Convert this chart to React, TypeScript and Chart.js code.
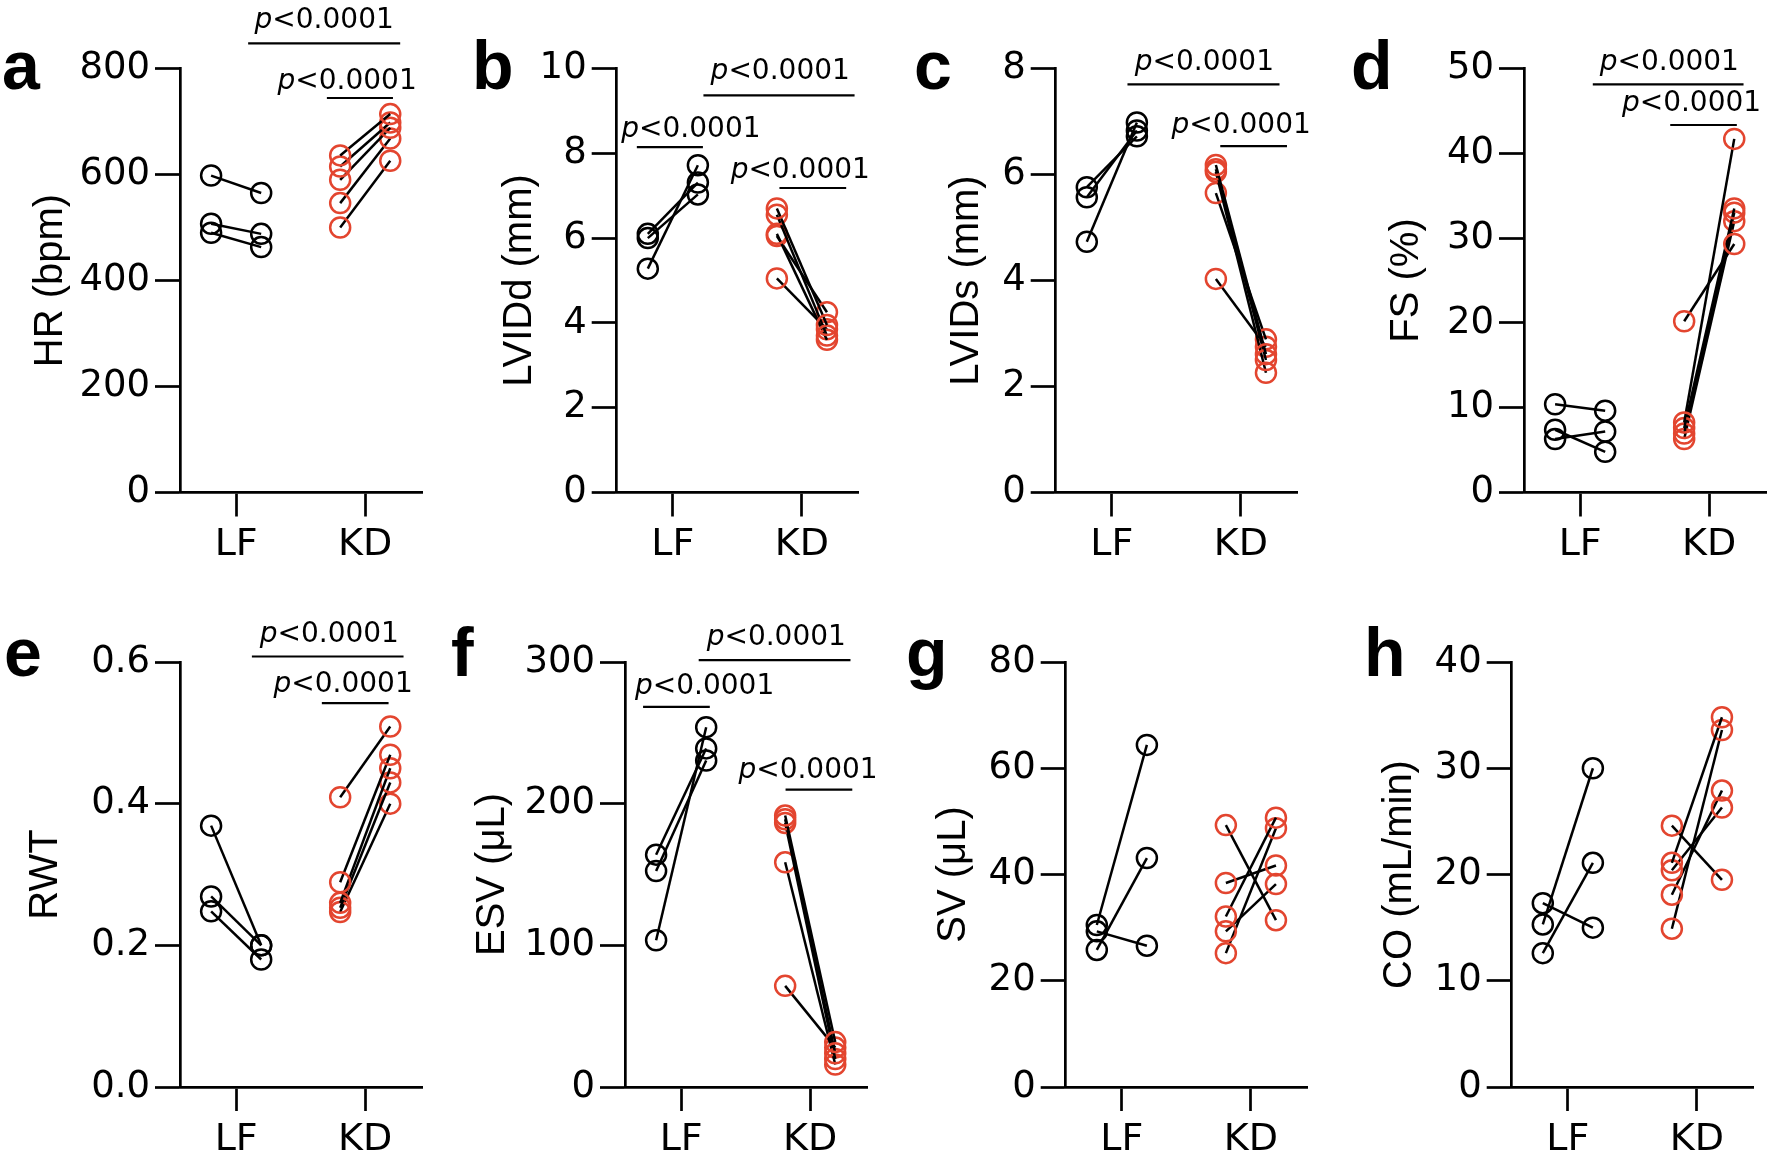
import React, { useEffect, useRef } from 'react';
import { Chart, registerables } from 'chart.js';

Chart.register(...registerables);

// ---------- data ----------
const CATEGORIES = ['LF', 'KD'];
const P_LABEL = 'p<0.0001';

// a: HR (bpm)
const hrLfPre = [598, 507, 490];
const hrLfPost = [565, 488, 463];
const hrKdPre = [636, 615, 590, 546, 500];
const hrKdPost = [714, 698, 688, 668, 626];

// b: LVIDd (mm)
const lviddLfPre = [6.1, 6.0, 5.28];
const lviddLfPost = [7.31, 7.03, 7.72];
const lviddKdPre = [6.7, 6.55, 6.1, 6.05, 5.05];
const lviddKdPost = [3.95, 3.7, 3.6, 4.25, 3.85];

// c: LVIDs (mm)
const lvidsLfPre = [5.76, 5.57, 4.73];
const lvidsLfPost = [6.72, 6.83, 6.98];
const lvidsKdPre = [6.18, 6.1, 6.05, 5.65, 4.03];
const lvidsKdPost = [2.61, 2.5, 2.26, 2.89, 2.75];

// d: FS (%)
const fsLfPre = [10.4, 7.4, 6.3];
const fsLfPost = [9.65, 4.8, 7.2];
const fsKdPre = [20.2, 8.26, 7.6, 6.96, 6.3];
const fsKdPost = [29.3, 41.7, 33.5, 33.0, 32.0];

// e: RWT
const rwtLfPre = [0.369, 0.269, 0.248];
const rwtLfPost = [0.2, 0.2, 0.18];
const rwtKdPre = [0.409, 0.289, 0.26, 0.253, 0.247];
const rwtKdPost = [0.509, 0.469, 0.45, 0.43, 0.4];

// f: ESV (uL)
const esvLfPre = [164, 152.5, 103.6];
const esvLfPost = [239, 230.5, 254];
const esvKdPre = [191.6, 189, 186.4, 158.6, 71.4];
const esvKdPost = [31.7, 23.8, 19.8, 15.9, 27.8];

// g: SV (uL)
const svLfPre = [30.5, 29.3, 25.8];
const svLfPost = [64.4, 26.6, 43.1];
const svKdPre = [49.3, 38.4, 32.1, 29.3, 25.2];
const svKdPost = [31.4, 41.7, 50.7, 38.2, 48.7];

// h: CO (mL/min)
const coLfPre = [17.3, 15.3, 12.6];
const coLfPost = [15.0, 30.0, 21.1];
const coKdPre = [24.6, 21.1, 20.4, 18.1, 14.9];
const coKdPost = [19.5, 34.8, 26.3, 27.9, 33.6];

// significance brackets: [from, to, at, labelX, labelY] in axis units
const hrBrackets = [[1.093, 2.271, 847.5, 1.682, 875.8], [1.703, 2.215, 744.3, 1.86, 761.7]];
const lviddBrackets = [[1.237, 2.408, 9.366, 1.832, 9.741], [0.721, 1.233, 8.144, 1.14, 8.387], [1.826, 2.343, 7.182, 1.987, 7.427]];
const lvidsBrackets = [[1.121, 2.299, 7.7, 1.717, 7.966], [1.84, 2.357, 6.536, 2.002, 6.779]];
const fsBrackets = [[1.098, 2.266, 48.12, 1.691, 49.79], [1.698, 2.214, 43.34, 1.863, 44.99]];
const rwtBrackets = [[1.122, 2.297, 0.6078, 1.722, 0.6288], [1.664, 2.181, 0.542, 1.829, 0.5577]];
const esvBrackets = [[1.136, 2.312, 301.3, 1.737, 311.8], [0.705, 1.222, 268.3, 1.182, 277.5], [1.809, 2.326, 209.9, 1.983, 218.3]];

// ---------- layout / style ----------
const X_MIN = 0.565;
const X_MAX = 2.44;
const PAIR_OFFSET = 0.194;
const RED = '#e3452f';
const BLACK = '#000000';
const PLOT_W = 242;
const X_AXIS_H = 75;
const AXIS_W = 2.7;

type Panel = {
  letter: string;
  title: string;
  lfPre: number[]; lfPost: number[]; kdPre: number[]; kdPost: number[];
  yMax: number; yStep: number; decimals: number;
  brackets: number[][];
  box: { left: number; top: number; width: number; height: number };
  plotLeft: number; plotTop: number; plotBottom: number;
  titleX: number;
  letterX: number; letterY: number;
};

const TOP = { top: 0, height: 580, plotTop: 68.5, plotBottom: 492.5, letterY: 89 };
const BOT = { top: 580, height: 585, plotTop: 662, plotBottom: 1087, letterY: 676 };
const COLS = [
  { left: 0, width: 445 },
  { left: 445, width: 445 },
  { left: 890, width: 444 },
  { left: 1334, width: 445 },
];

function mk(row: any, col: number, o: any): Panel {
  return {
    ...o,
    box: { left: COLS[col].left, top: row.top, width: COLS[col].width, height: row.height },
    plotTop: row.plotTop,
    plotBottom: row.plotBottom,
    letterY: row.letterY,
  };
}

const PANELS: Panel[] = [
  mk(TOP, 0, { letter: 'a', title: 'HR (bpm)', lfPre: hrLfPre, lfPost: hrLfPost, kdPre: hrKdPre, kdPost: hrKdPost, yMax: 800, yStep: 200, decimals: 0, brackets: hrBrackets, plotLeft: 180, titleX: 50.5, letterX: 2 }),
  mk(TOP, 1, { letter: 'b', title: 'LVIDd (mm)', lfPre: lviddLfPre, lfPost: lviddLfPost, kdPre: lviddKdPre, kdPost: lviddKdPost, yMax: 10, yStep: 2, decimals: 0, brackets: lviddBrackets, plotLeft: 616.7, titleX: 520, letterX: 472 }),
  mk(TOP, 2, { letter: 'c', title: 'LVIDs (mm)', lfPre: lvidsLfPre, lfPost: lvidsLfPost, kdPre: lvidsKdPre, kdPost: lvidsKdPost, yMax: 8, yStep: 2, decimals: 0, brackets: lvidsBrackets, plotLeft: 1055.7, titleX: 966.5, letterX: 914 }),
  mk(TOP, 3, { letter: 'd', title: 'FS (%)', lfPre: fsLfPre, lfPost: fsLfPost, kdPre: fsKdPre, kdPost: fsKdPost, yMax: 50, yStep: 10, decimals: 0, brackets: fsBrackets, plotLeft: 1524, titleX: 1407, letterX: 1351 }),
  mk(BOT, 0, { letter: 'e', title: 'RWT', lfPre: rwtLfPre, lfPost: rwtLfPost, kdPre: rwtKdPre, kdPost: rwtKdPost, yMax: 0.6, yStep: 0.2, decimals: 1, brackets: rwtBrackets, plotLeft: 180, titleX: 46, letterX: 4 }),
  mk(BOT, 1, { letter: 'f', title: 'ESV (\u03bcL)', lfPre: esvLfPre, lfPost: esvLfPost, kdPre: esvKdPre, kdPost: esvKdPost, yMax: 300, yStep: 100, decimals: 0, brackets: esvBrackets, plotLeft: 625, titleX: 493.3, letterX: 451 }),
  mk(BOT, 2, { letter: 'g', title: 'SV (\u03bcL)', lfPre: svLfPre, lfPost: svLfPost, kdPre: svKdPre, kdPost: svKdPost, yMax: 80, yStep: 20, decimals: 0, brackets: [], plotLeft: 1065.7, titleX: 954.2, letterX: 906 }),
  mk(BOT, 3, { letter: 'h', title: 'CO (mL/min)', lfPre: coLfPre, lfPost: coLfPost, kdPre: coKdPre, kdPost: coKdPost, yMax: 40, yStep: 10, decimals: 0, brackets: [], plotLeft: 1511.7, titleX: 1399.8, letterX: 1364 }),
];

const TITLE_SIZE = 40;
const TICK_FONT = 'DejaVu Sans';

function buildDatasets(p: Panel) {
  const out: any[] = [];
  const groups: [number[], number[], string, number][] = [
    [p.lfPre, p.lfPost, BLACK, 1],
    [p.kdPre, p.kdPost, RED, 2],
  ];
  for (const [pre, post, color, gx] of groups) {
    pre.forEach((v, i) => {
      out.push({
        data: [
          { x: gx - PAIR_OFFSET, y: v },
          { x: gx + PAIR_OFFSET, y: post[i] },
        ],
        showLine: true,
        borderColor: BLACK,
        borderWidth: 2.5,
        pointRadius: 10,
        pointBorderWidth: 2.5,
        pointBorderColor: color,
        pointBackgroundColor: 'rgba(0,0,0,0)',
        clip: false,
      });
    });
  }
  return out;
}

function makeConfig(p: Panel): any {
  const yW = p.plotLeft - p.box.left;
  const padTop = p.plotTop - p.box.top;
  const padRight = p.box.left + p.box.width - (p.plotLeft + PLOT_W);
  const padBottom = p.box.top + p.box.height - p.plotBottom - X_AXIS_H;
  const titlePad = p.titleX - p.box.left - (TITLE_SIZE * 1.2) / 2;

  const annot = {
    id: 'annot' + p.letter,
    afterDraw(chart: any) {
      const { ctx } = chart;
      const xs = chart.scales.x;
      const ys = chart.scales.y;
      ctx.save();
      ctx.fillStyle = BLACK;
      ctx.textAlign = 'left';
      ctx.textBaseline = 'alphabetic';
      ctx.font = 'bold 68px "Liberation Sans"';
      ctx.fillText(p.letter, p.letterX - p.box.left, p.letterY - p.box.top);

      for (const [from, to, at, lx, ly] of p.brackets) {
        const x1 = xs.getPixelForValue(from);
        const x2 = xs.getPixelForValue(to);
        const yy = ys.getPixelForValue(at);
        ctx.strokeStyle = BLACK;
        ctx.lineWidth = 2.2;
        ctx.beginPath();
        ctx.moveTo(x1, yy);
        ctx.lineTo(x2, yy);
        ctx.stroke();

        const fItalic = 'italic 28px "DejaVu Sans"';
        const fNormal = '28px "DejaVu Sans"';
        ctx.font = fItalic;
        const wp = ctx.measureText(P_LABEL.slice(0, 1)).width;
        ctx.font = fNormal;
        const wr = ctx.measureText(P_LABEL.slice(1)).width;
        const total = wp + wr;
        const tx = xs.getPixelForValue(lx) - total / 2;
        const ty = ys.getPixelForValue(ly);
        ctx.font = fItalic;
        ctx.fillText(P_LABEL.slice(0, 1), tx, ty);
        ctx.font = fNormal;
        ctx.fillText(P_LABEL.slice(1), tx + wp, ty);
      }
      ctx.restore();
    },
  };

  return {
    type: 'scatter',
    data: { datasets: buildDatasets(p) },
    options: {
      responsive: false,
      maintainAspectRatio: false,
      animation: false,
      events: [],
      layout: { padding: { left: 0, top: padTop, right: padRight, bottom: padBottom } },
      plugins: { legend: { display: false }, tooltip: { enabled: false } },
      scales: {
        x: {
          type: 'linear',
          min: X_MIN,
          max: X_MAX,
          afterBuildTicks: (s: any) => {
            s.ticks = CATEGORIES.map((_, i) => ({ value: i + 1 }));
          },
          afterFit: (s: any) => {
            s.height = X_AXIS_H;
          },
          ticks: {
            autoSkip: false,
            maxRotation: 0,
            minRotation: 0,
            padding: 6,
            color: BLACK,
            font: { family: TICK_FONT, size: 38 },
            callback: (v: number) => CATEGORIES[Math.round(v) - 1] ?? '',
          },
          grid: { drawOnChartArea: false, drawTicks: true, tickLength: 24, tickWidth: AXIS_W, color: BLACK },
          border: { display: true, color: BLACK, width: AXIS_W },
        },
        y: {
          type: 'linear',
          min: 0,
          max: p.yMax,
          afterFit: (s: any) => {
            s.width = yW;
          },
          ticks: {
            stepSize: p.yStep,
            padding: 5,
            color: BLACK,
            font: { family: TICK_FONT, size: 37 },
            callback: (v: number) => v.toFixed(p.decimals),
          },
          grid: { drawOnChartArea: false, drawTicks: true, tickLength: 25, tickWidth: AXIS_W, color: BLACK },
          border: { display: true, color: BLACK, width: AXIS_W },
          title: {
            display: true,
            text: p.title,
            color: BLACK,
            font: { family: 'Liberation Sans', size: TITLE_SIZE },
            padding: { top: titlePad, bottom: 0 },
          },
        },
      },
    },
    plugins: [annot],
  };
}

function PanelChart({ p }: { p: Panel }) {
  const ref = useRef<HTMLCanvasElement | null>(null);
  useEffect(() => {
    if (!ref.current) return;
    const chart = new Chart(ref.current, makeConfig(p));
    return () => chart.destroy();
  }, [p]);
  return (
    <canvas
      ref={ref}
      width={p.box.width}
      height={p.box.height}
      style={{ position: 'absolute', left: p.box.left, top: p.box.top, width: p.box.width, height: p.box.height }}
    />
  );
}

export default function App() {
  return (
    <div style={{ position: 'absolute', left: 0, top: 0, width: 1779, height: 1165, background: '#ffffff', overflow: 'hidden' }}>
      {PANELS.map((p) => (
        <PanelChart key={p.letter} p={p} />
      ))}
    </div>
  );
}
